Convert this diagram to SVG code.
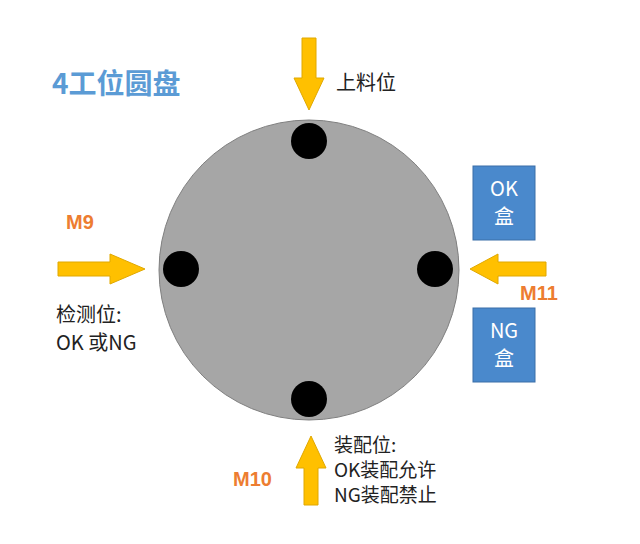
<svg xmlns="http://www.w3.org/2000/svg" width="640" height="544" viewBox="0 0 640 544">
<style>
.cj{font-family:"Noto Sans CJK SC","Liberation Sans",sans-serif;fill:#222;font-size:20px}
.m{font-family:"Liberation Sans",sans-serif;font-weight:bold;fill:#ED7D31;font-size:20px}
.arr{fill:#FFC000;stroke:#E0A800;stroke-width:1}
.box{fill:#4A89CC;stroke:#3A6EA8;stroke-width:1}
.bt{font-family:"Noto Sans CJK SC","Liberation Sans",sans-serif;fill:#fff;font-size:20px;text-anchor:middle}
</style>
<rect width="640" height="544" fill="#fff"/>
<text x="52" y="94" font-family="Noto Sans CJK SC,sans-serif" font-weight="bold" font-size="28" fill="#5B9BD5">4工位圆盘</text>
<g id="disk">
<circle cx="309" cy="270" r="150" fill="#A6A6A6" stroke="#7F7F7F" stroke-width="1"/>
<circle cx="309" cy="141" r="18" fill="#000"/>
<circle cx="181" cy="269" r="18" fill="#000"/>
<circle cx="435" cy="269" r="18" fill="#000"/>
<circle cx="309" cy="399" r="18" fill="#000"/>
</g>
<g id="connectors">
<polygon class="arr" points="302,38 316,38 316,78 324,78 309,110 294,78 302,78"/>
<polygon class="arr" points="58,262 110,262 110,254 145,269 110,284 110,276 58,276"/>
<polygon class="arr" points="546,262 498,262 498,254 470,269 498,284 498,276 546,276"/>
<polygon class="arr" points="304,505 318,505 318,468 326,468 311,436 296,468 304,468"/>
</g>
<g id="top-label"><text class="cj" x="336" y="90">上料位</text></g>
<g id="m9"><text class="m" x="66" y="229">M9</text></g>
<g id="left-label"><text class="cj" x="56" y="322">检测位:</text><text class="cj" x="56" y="350">OK 或NG</text></g>
<g id="m11"><text class="m" x="520" y="300">M11</text></g>
<g id="m10"><text class="m" x="233" y="486">M10</text></g>
<g id="bottom-label" font-size="19"><text class="cj" style="font-size:19px" x="334" y="452">装配位:</text><text class="cj" style="font-size:19px" x="334" y="477">OK装配允许</text><text class="cj" style="font-size:19px" x="334" y="502">NG装配禁止</text></g>
<g id="ok-box"><rect class="box" x="473" y="166" width="62" height="74"/><text class="bt" x="504" y="196">OK</text><text class="bt" x="504" y="224">盒</text></g>
<g id="ng-box"><rect class="box" x="473" y="308" width="62" height="74"/><text class="bt" x="504" y="338">NG</text><text class="bt" x="504" y="366">盒</text></g>
</svg>
